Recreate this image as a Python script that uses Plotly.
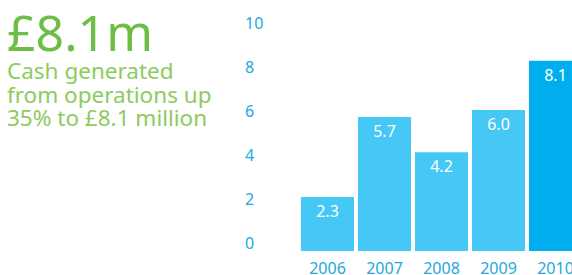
import plotly.graph_objects as go

years = ["2006", "2007", "2008", "2009", "2010"]
cash = [2.3, 5.7, 4.2, 6.0, 8.1]
bar_colors = ["#45C8F5", "#45C8F5", "#45C8F5", "#45C8F5", "#00AEEF"]
y_ticks = [0, 2, 4, 6, 8, 10]
headline = "£8.1m"
sub_lines = ["Cash generated", "from operations up", "35% to £8.1 million"]

W, H = 572, 275
plot_left, plot_top, plot_bottom = 242, 5, 257  # pixels
bar_base = 251          # pixel row of the bars' zero line
px_per_unit = 23.5      # bar scale
tick_zero, tick_px_per_unit = 243, 22  # tick label scale

L, T, B, R = plot_left, plot_top, H - plot_bottom, 0
pw, ph = W - L - R, H - T - B

def px_x(sx):
    return (sx - L) / pw

def px_y(sy):
    return (H - B - sy) / ph

step = 57.0
first_center = 327.5  # pixel x of first bar centre

y_lo = -(plot_bottom - bar_base) / px_per_unit
y2_lo = -(plot_bottom - tick_zero) / tick_px_per_unit

fig = go.Figure()
fig.add_trace(go.Bar(
    x=years, y=cash, marker=dict(color=bar_colors, line=dict(width=0)),
    texttemplate="%{y:.1f}", textposition="inside", insidetextanchor="end",
    textangle=0, constraintext="none",
    textfont=dict(color="white", size=16, family="Noto Sans"),
    hoverinfo="skip",
))
fig.add_trace(go.Scatter(x=[], y=[], yaxis="y2", showlegend=False, hoverinfo="skip"))

annotations = [dict(
    text=headline, xref="paper", yref="paper", x=px_x(5), y=px_y(32.5),
    xanchor="left", yanchor="middle", showarrow=False,
    font=dict(size=50, color="#6DBE45", family="Noto Sans"),
)]
for i, line in enumerate(sub_lines):
    annotations.append(dict(
        text=line, xref="paper", yref="paper", x=px_x(5), y=px_y(71 + 23.5 * i),
        xanchor="left", yanchor="middle", showarrow=False,
        font=dict(size=22.5, color="#8DCB5E", family="Noto Sans"),
    ))

fig.update_layout(
    width=W, height=H, margin=dict(l=L, r=R, t=T, b=B, autoexpand=False),
    paper_bgcolor="white", plot_bgcolor="white", showlegend=False,
    bargap=4 / step,
    xaxis=dict(range=[(plot_left - first_center) / step, (W - first_center) / step],
               showgrid=False, zeroline=False, showline=False, ticks="",
               ticklabelstandoff=0,
               tickfont=dict(size=16, color="#1DA9E1", family="Noto Sans"),
               fixedrange=True),
    yaxis=dict(range=[y_lo, y_lo + ph / px_per_unit], visible=False, fixedrange=True),
    yaxis2=dict(overlaying="y", side="left",
                range=[y2_lo, y2_lo + ph / tick_px_per_unit],
                tickvals=y_ticks, ticktext=[str(v) for v in y_ticks],
                ticklabelposition="inside", ticks="", showgrid=False,
                zeroline=False, showline=False,
                tickfont=dict(size=16, color="#1DA9E1", family="Noto Sans"),
                fixedrange=True),
    annotations=annotations,
)

fig.write_html(
    "out.html",
    config={"displayModeBar": False, "staticPlot": True},
    post_script="document.body.style.margin='0';"
                "document.documentElement.style.overflow='hidden';",
)
